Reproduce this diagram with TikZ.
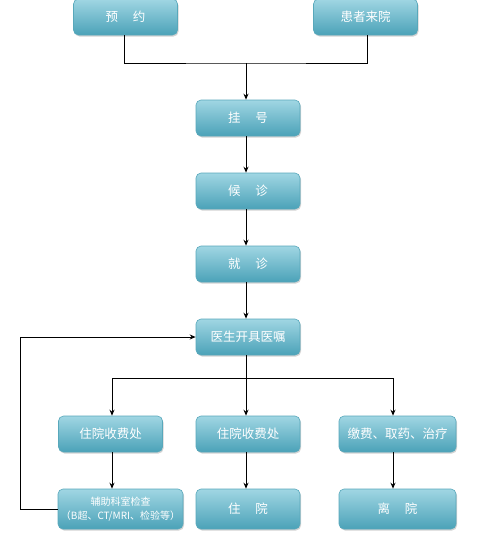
\documentclass[tikz,border=0pt]{standalone}
\usepackage{fontspec}
\setmainfont{Noto Sans CJK SC}
\usetikzlibrary{arrows.meta,shadows}

\definecolor{boxtop}{HTML}{A0D6E3}
\definecolor{boxbot}{HTML}{4BA2B8}
\definecolor{boxline}{HTML}{58A8BB}

\tikzset{
  stepbox/.style={rectangle, rounded corners=5pt, draw=boxline, line width=0.6pt,
    top color=boxtop, bottom color=boxbot, text=white, font=\fontsize{12.5}{14}\selectfont,
    minimum width=104pt, minimum height=36pt, inner sep=2pt, align=center,
    drop shadow={shadow xshift=1pt, shadow yshift=-1.5pt, opacity=0.35}},
  link/.style={line width=1pt, black},
}

\begin{document}
\begin{tikzpicture}[x=1pt, y=-1pt, >={Stealth[length=6pt,width=5pt]}]
  \useasboundingbox (0,0) rectangle (479,538);

  % Entry
  \node[stepbox] (yuyue) at (125.5,17) {预\hspace{1.2em}约};
  \node[stepbox] (laiyuan) at (365.5,17) {患者来院};

  % Main line
  \node[stepbox] (guahao) at (248,118) {挂\hspace{1.2em}号};
  \node[stepbox] (houzhen) at (248,191) {候\hspace{1.2em}诊};
  \node[stepbox] (jiuzhen) at (248,264) {就\hspace{1.2em}诊};
  \node[stepbox] (yizhu) at (248,337) {医生开具医嘱};

  % Branches
  \node[stepbox] (shoufeiL) at (110.5,434) {住院收费处};
  \node[stepbox] (shoufeiM) at (248,434) {住院收费处};
  \node[stepbox, minimum width=117pt] (jiaofei) at (397.5,434) {缴费、取药、治疗};

  % Last row
  \node[stepbox, minimum width=125pt, minimum height=40pt, font=\fontsize{10}{13.5}\selectfont] (fuzhu) at (120.5,509) {辅助科室检查\\（B超、CT/MRI、检验等）};
  \node[stepbox, minimum height=40pt] (zhuyuan) at (248,509) {住\hspace{1.2em}院};
  \node[stepbox, minimum width=117pt, minimum height=40pt] (liyuan) at (397.5,509) {离\hspace{1.2em}院};

  % Joints
  \coordinate (merge) at (246,63);
  \coordinate (split) at (246,378);
  \coordinate (back) at (20,509);

  % Connectors
  \draw[link] (yuyue.south -| 124,0) |- (merge) -| (laiyuan.south -| 367,0);
  \draw[link,->] (merge) -- (guahao.north -| merge);
  \draw[link,->] (guahao.south -| merge) -- (houzhen.north -| merge);
  \draw[link,->] (houzhen.south -| merge) -- (jiuzhen.north -| merge);
  \draw[link,->] (jiuzhen.south -| merge) -- (yizhu.north -| merge);
  \draw[link] (yizhu.south -| split) -- (split);
  \draw[link,->] (split) -| (shoufeiL.north -| 112,0);
  \draw[link,->] (split) -| (jiaofei.north -| 393,0);
  \draw[link,->] (split) -- (shoufeiM.north -| split);
  \draw[link,->] (shoufeiL.south -| 112,0) -- (fuzhu.north -| 112,0);
  \draw[link,->] (shoufeiM.south -| split) -- (zhuyuan.north -| split);
  \draw[link,->] (jiaofei.south -| 393,0) -- (liyuan.north -| 393,0);
  \draw[link,->] (fuzhu.west) -- (back) |- (yizhu.west);
\end{tikzpicture}
\end{document}
